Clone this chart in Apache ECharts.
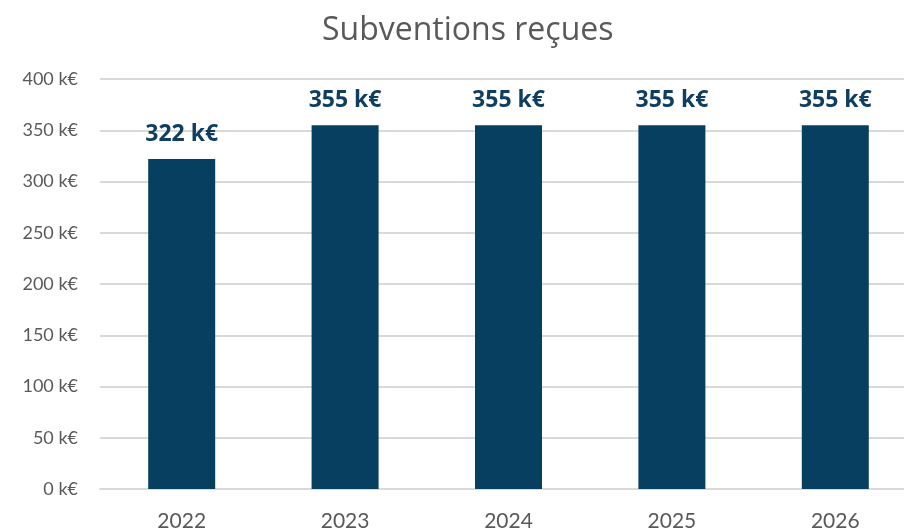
<!DOCTYPE html>
<html>
<head>
<meta charset="utf-8">
<script src="https://cdn.jsdelivr.net/npm/echarts@6/dist/echarts.min.js"></script>
<style>
  html, body { margin: 0; padding: 0; background: #fff; }
  #chart { width: 904px; height: 530px; }
</style>
</head>
<body>
<div id="chart"></div>
<script>
// données
const years = ['2022', '2023', '2024', '2025', '2026'];
const subventions = [322, 355, 355, 355, 355];

const chart = echarts.init(document.getElementById('chart'), null, { renderer: 'canvas' });

const option = {
  animation: false,
  title: {
    text: 'Subventions reçues',
    left: 317,
    top: 10,
    textStyle: {
      fontFamily: 'Open Sans',
      fontSize: 32,
      fontWeight: 'normal',
      color: '#595959'
    }
  },
  grid: {
    left: 100,
    width: 817,
    top: 79,
    bottom: 41,
    outerBoundsMode: 'none'
  },
  xAxis: {
    type: 'category',
    data: years,
    axisLine: { lineStyle: { color: '#d9d9d9', width: 2 } },
    axisTick: { show: false },
    axisLabel: {
      margin: 22,
      fontFamily: 'Lato',
      fontSize: 21,
      color: '#595959'
    }
  },
  yAxis: {
    type: 'value',
    min: 0,
    max: 400,
    interval: 50,
    axisLine: { show: false },
    axisTick: { show: false },
    splitLine: { lineStyle: { color: '#d9d9d9', width: 2 } },
    axisLabel: {
      margin: 22,
      fontFamily: 'Lato',
      fontSize: 18,
      color: '#595959',
      formatter: v => v + ' k€'
    }
  },
  series: [{
    type: 'bar',
    data: subventions,
    barWidth: 67,
    itemStyle: { color: '#073f61' },
    label: {
      show: true,
      position: 'top',
      distance: 13,
      fontFamily: 'Open Sans',
      fontSize: 23,
      fontWeight: 'bold',
      color: '#0f3e60',
      formatter: p => p.value + ' k€'
    }
  }]
};

chart.setOption(option);
</script>
</body>
</html>
